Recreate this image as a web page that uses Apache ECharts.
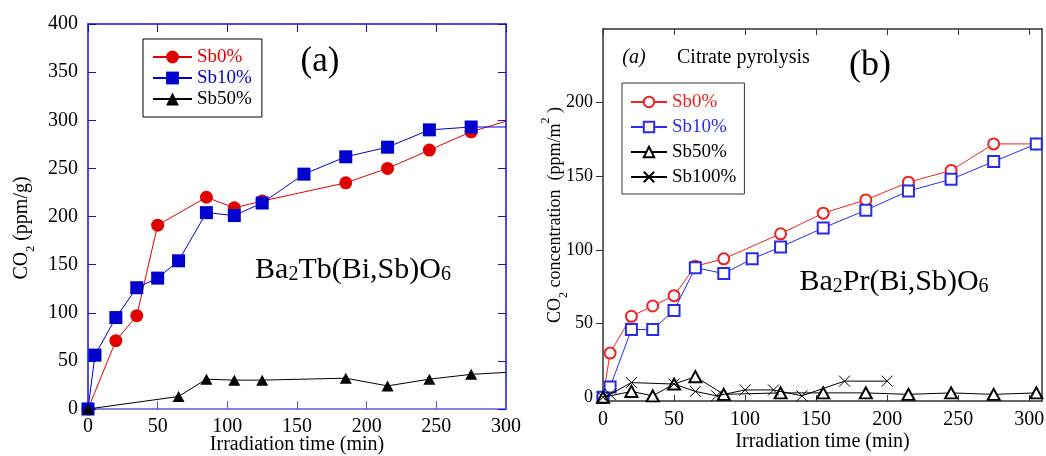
<!DOCTYPE html>
<html>
<head>
<meta charset="utf-8">
<script src="https://cdn.jsdelivr.net/npm/echarts@6/dist/echarts.min.js"></script>
<style>
html,body{margin:0;padding:0;background:#fff;}
#wrap{position:relative;width:1046px;height:456px;overflow:hidden;}
#c1{position:absolute;left:0;top:0;width:530px;height:456px;}
#c2{position:absolute;left:530px;top:0;width:516px;height:456px;}
</style>
</head>
<body>
<div id="wrap"><div id="c1"></div><div id="c2"></div></div>
<script>
// ---------- Data: chart (a) Ba2Tb(Bi,Sb)O6 ----------
var aXTicks = [0, 50, 100, 150, 200, 250, 300];
var aYTicks = [0, 50, 100, 150, 200, 250, 300, 350, 400];
var aSb0 = [[0,0],[20,71],[35,97],[50,191],[85,220],[105,209],[125,216],[185,235],[215,250],[245,269],[275,288],[300,299]];
var aSb10 = [[0,0],[5,56],[20,95],[35,126],[50,136],[65,154],[85,204],[105,201],[125,214],[155,244],[185,262],[215,272],[245,290],[275,293],[300,293]];
var aSb50 = [[0,0],[65,13],[85,31],[105,30],[125,30],[185,32],[215,24],[245,31],[275,36],[300,38]];

// ---------- Data: chart (b) Ba2Pr(Bi,Sb)O6 ----------
var bXTicks = [0, 50, 100, 150, 200, 250, 300];
var bYTicks = [0, 50, 100, 150, 200];
var bSb0 = [[0,0],[5,30],[20,55],[35,62],[50,69],[65,89],[85,94],[125,111],[155,125],[185,134],[215,146],[245,154],[275,172],[305,172]];
var bSb10 = [[0,0],[5,7],[20,46],[35,46],[50,59],[65,88],[85,84],[105,94],[125,102],[155,115],[185,127],[215,140],[245,148],[275,160],[305,172]];
var bSb50 = [[0,0],[20,4],[35,1],[50,9],[65,14],[85,2],[125,3],[155,3],[185,3],[215,2],[245,3],[275,2],[305,3]];
var bSb100 = [[0,0],[5,2],[20,10],[50,9],[65,4],[80,1],[100,5],[120,5],[140,1],[170,11],[200,11]];

var FONT = 'Liberation Serif';

// hide the marker of the last (edge) point on chart (a)
function edgeNoSymbol(arr, edgeX) {
  return arr.map(function (p) {
    return p[0] === edgeX ? { value: p, symbol: 'none' } : p;
  });
}

// ---------------- Chart (a) ----------------
var BLUE_AX = '#1010d0';
var BLUE_AX2 = '#5a5ae8';
var c1 = echarts.init(document.getElementById('c1'), null, { renderer: 'canvas' });
c1.setOption({
  animation: false,
  textStyle: { fontFamily: FONT },
  grid: { left: 88, top: 24, width: 418, height: 385, containLabel: false, outerBoundsMode: 'none' },
  legend: {
    orient: 'vertical', left: 143, top: 39,
    borderColor: '#000', borderWidth: 1,
    padding: [8, 10, 8, 9],
    itemWidth: 39, itemHeight: 16, itemGap: 1,
    textStyle: { fontFamily: FONT, fontSize: 19, lineHeight: 20 },
    data: [
      { name: 'Sb0%', textStyle: { color: '#e00000' } },
      { name: 'Sb10%', textStyle: { color: '#0000cc' } },
      { name: 'Sb50%', textStyle: { color: '#000' } }
    ]
  },
  xAxis: [{
    type: 'value', min: 0, max: 300, interval: 50, position: 'bottom',
    axisLine: { onZero: false, lineStyle: { color: BLUE_AX2, width: 1.5 } },
    axisTick: { inside: true, length: 8, lineStyle: { color: BLUE_AX2 } },
    splitLine: { show: false },
    axisLabel: { color: '#000', fontFamily: FONT, fontSize: 20, margin: 8, customValues: aXTicks },
    name: 'Irradiation time (min)', nameLocation: 'middle', nameGap: 26, nameMoveOverlap: false,
    nameTextStyle: { color: '#000', fontFamily: FONT, fontSize: 20 }
  }, {
    type: 'value', min: 0, max: 300, interval: 50, position: 'top',
    axisLine: { onZero: false, lineStyle: { color: BLUE_AX, width: 1.5 } },
    axisTick: { inside: true, length: 8, lineStyle: { color: BLUE_AX } },
    axisLabel: { show: false }, splitLine: { show: false }
  }],
  yAxis: [{
    type: 'value', min: 0, max: 400, interval: 50, position: 'left',
    axisLine: { show: true, onZero: false, lineStyle: { color: BLUE_AX, width: 1.5 } },
    axisTick: { show: true, inside: true, length: 8, lineStyle: { color: BLUE_AX } },
    splitLine: { show: false },
    axisLabel: { color: '#000', fontFamily: FONT, fontSize: 20, margin: 10, customValues: aYTicks }
  }, {
    type: 'value', min: 0, max: 400, interval: 50, position: 'right',
    axisLine: { show: true, onZero: false, lineStyle: { color: BLUE_AX, width: 1.5 } },
    axisTick: { show: true, inside: true, length: 8, lineStyle: { color: BLUE_AX } },
    axisLabel: { show: false }, splitLine: { show: false }
  }],
  series: [{
    name: 'Sb0%', type: 'line', data: edgeNoSymbol(aSb0, 300),
    symbol: 'circle', symbolSize: 13, clip: false,
    itemStyle: { color: '#e00000' }, lineStyle: { color: '#e00000', width: 1 }, z: 3
  }, {
    name: 'Sb10%', type: 'line', data: edgeNoSymbol(aSb10, 300),
    symbol: 'rect', symbolSize: 13, clip: false,
    itemStyle: { color: '#0000cc' }, lineStyle: { color: '#0000cc', width: 1 }, z: 4
  }, {
    name: 'Sb50%', type: 'line', data: edgeNoSymbol(aSb50, 300),
    symbol: 'triangle', symbolSize: [12, 11], clip: false,
    itemStyle: { color: '#000' }, lineStyle: { color: '#000', width: 1 }, z: 5
  }],
  graphic: [{
    type: 'text', x: 320, y: 62,
    style: { text: '(a)', fontFamily: FONT, fontSize: 35, fill: '#000', align: 'center', verticalAlign: 'middle' }
  }, {
    type: 'text', x: 353, y: 270,
    style: {
      text: 'Ba{s|2}Tb(Bi,Sb)O{s|6}', fontFamily: FONT, fontSize: 30, fill: '#000',
      align: 'center', verticalAlign: 'middle',
      rich: { s: { fontFamily: FONT, fontSize: 20, fill: '#000', verticalAlign: 'bottom', lineHeight: 30 } }
    }
  }, {
    type: 'text', x: 22, y: 228, rotation: Math.PI / 2,
    style: {
      text: 'CO{s|2} (ppm/g)', fontFamily: FONT, fontSize: 20, fill: '#000',
      align: 'center', verticalAlign: 'middle',
      rich: { s: { fontFamily: FONT, fontSize: 12, fill: '#000', verticalAlign: 'bottom', lineHeight: 30 } }
    }
  }]
});

// ---------------- Chart (b) ----------------
var AX = '#333';
var RED = '#f02020';
var BLU = '#2a2aee';
var c2 = echarts.init(document.getElementById('c2'), null, { renderer: 'canvas' });
c2.setOption({
  animation: false,
  textStyle: { fontFamily: FONT },
  grid: { left: 73, top: 29, width: 439, height: 372, containLabel: false, outerBoundsMode: 'none' },
  legend: {
    orient: 'vertical', left: 92, top: 83,
    borderColor: '#333', borderWidth: 1,
    padding: [9, 8, 7, 8],
    itemWidth: 36, itemHeight: 13, itemGap: 5,
    textStyle: { fontFamily: FONT, fontSize: 19, lineHeight: 20 },
    data: [
      { name: 'Sb0%', textStyle: { color: RED } },
      { name: 'Sb10%', textStyle: { color: BLU } },
      { name: 'Sb50%', textStyle: { color: '#000' } },
      { name: 'Sb100%', textStyle: { color: '#000' } }
    ]
  },
  xAxis: [{
    type: 'value', min: 0, max: 309, position: 'bottom',
    axisLine: { onZero: false, lineStyle: { color: AX, width: 1.5 } },
    axisTick: { inside: true, length: 6, lineStyle: { color: AX }, customValues: bXTicks },
    splitLine: { show: false },
    axisLabel: { color: '#000', fontFamily: FONT, fontSize: 20, margin: 9, customValues: bXTicks },
    name: 'Irradiation time (min)', nameLocation: 'middle', nameGap: 31, nameMoveOverlap: false,
    nameTextStyle: { color: '#000', fontFamily: FONT, fontSize: 20 }
  }, {
    type: 'value', min: 0, max: 309, position: 'top',
    axisLine: { onZero: false, lineStyle: { color: AX, width: 1.5 } },
    axisTick: { inside: true, length: 6, lineStyle: { color: AX }, customValues: bXTicks },
    axisLabel: { show: false }, splitLine: { show: false }
  }],
  yAxis: [{
    type: 'value', min: -2.5, max: 250, position: 'left',
    axisLine: { show: true, onZero: false, lineStyle: { color: AX, width: 1.5 } },
    axisTick: { show: true, inside: false, length: 7, lineStyle: { color: AX }, customValues: bYTicks },
    splitLine: { show: false },
    axisLabel: { color: '#000', fontFamily: FONT, fontSize: 18, margin: 10, customValues: bYTicks }
  }, {
    type: 'value', min: -2.5, max: 250, position: 'right',
    axisLine: { show: true, onZero: false, lineStyle: { color: AX, width: 1.5 } },
    axisTick: { show: false }, axisLabel: { show: false }, splitLine: { show: false }
  }],
  series: [{
    name: 'Sb0%', type: 'line', data: bSb0,
    symbol: 'emptyCircle', symbolSize: 11, clip: false,
    itemStyle: { color: RED, borderColor: RED, borderWidth: 1 }, lineStyle: { color: RED, width: 1 }, z: 3
  }, {
    name: 'Sb10%', type: 'line', data: bSb10,
    symbol: 'emptyRect', symbolSize: 11, clip: false,
    itemStyle: { color: BLU, borderColor: BLU, borderWidth: 1 }, lineStyle: { color: BLU, width: 1 }, z: 4
  }, {
    name: 'Sb50%', type: 'line', data: bSb50,
    symbol: 'emptyTriangle', symbolSize: [12, 11], clip: false,
    itemStyle: { color: '#000', borderColor: '#000', borderWidth: 0.8 }, lineStyle: { color: '#000', width: 1 }, z: 5
  }, {
    name: 'Sb100%', type: 'line', data: bSb100,
    symbol: 'path://M0,0L10,10M0,10L10,0', symbolSize: 11, clip: false,
    itemStyle: { color: 'rgba(0,0,0,0)', borderColor: '#000', borderWidth: 1 }, lineStyle: { color: '#000', width: 1 }, z: 6
  }],
  graphic: [{
    type: 'text', x: 634 - 530, y: 58,
    style: { text: '(a)', fontFamily: FONT, fontStyle: 'italic', fontSize: 20, fill: '#000', align: 'center', verticalAlign: 'middle' }
  }, {
    type: 'text', x: 677 - 530, y: 58,
    style: { text: 'Citrate pyrolysis', fontFamily: FONT, fontSize: 20, fill: '#000', align: 'left', verticalAlign: 'middle' }
  }, {
    type: 'text', x: 870 - 530, y: 66,
    style: { text: '(b)', fontFamily: FONT, fontSize: 36, fill: '#000', align: 'center', verticalAlign: 'middle' }
  }, {
    type: 'text', x: 894 - 530, y: 282,
    style: {
      text: 'Ba{s|2}Pr(Bi,Sb)O{s|6}', fontFamily: FONT, fontSize: 30, fill: '#000',
      align: 'center', verticalAlign: 'middle',
      rich: { s: { fontFamily: FONT, fontSize: 20, fill: '#000', verticalAlign: 'bottom', lineHeight: 30 } }
    }
  }, {
    type: 'text', x: 555 - 530, y: 215, rotation: Math.PI / 2,
    style: {
      text: 'CO{s|2} concentration  (ppm/m{u|2} )', fontFamily: FONT, fontSize: 18, fill: '#000',
      align: 'center', verticalAlign: 'middle',
      rich: {
        s: { fontFamily: FONT, fontSize: 12, fill: '#000', verticalAlign: 'bottom', lineHeight: 30 },
        u: { fontFamily: FONT, fontSize: 12, fill: '#000', verticalAlign: 'top', lineHeight: 30 }
      }
    }
  }]
});
</script>
</body>
</html>
